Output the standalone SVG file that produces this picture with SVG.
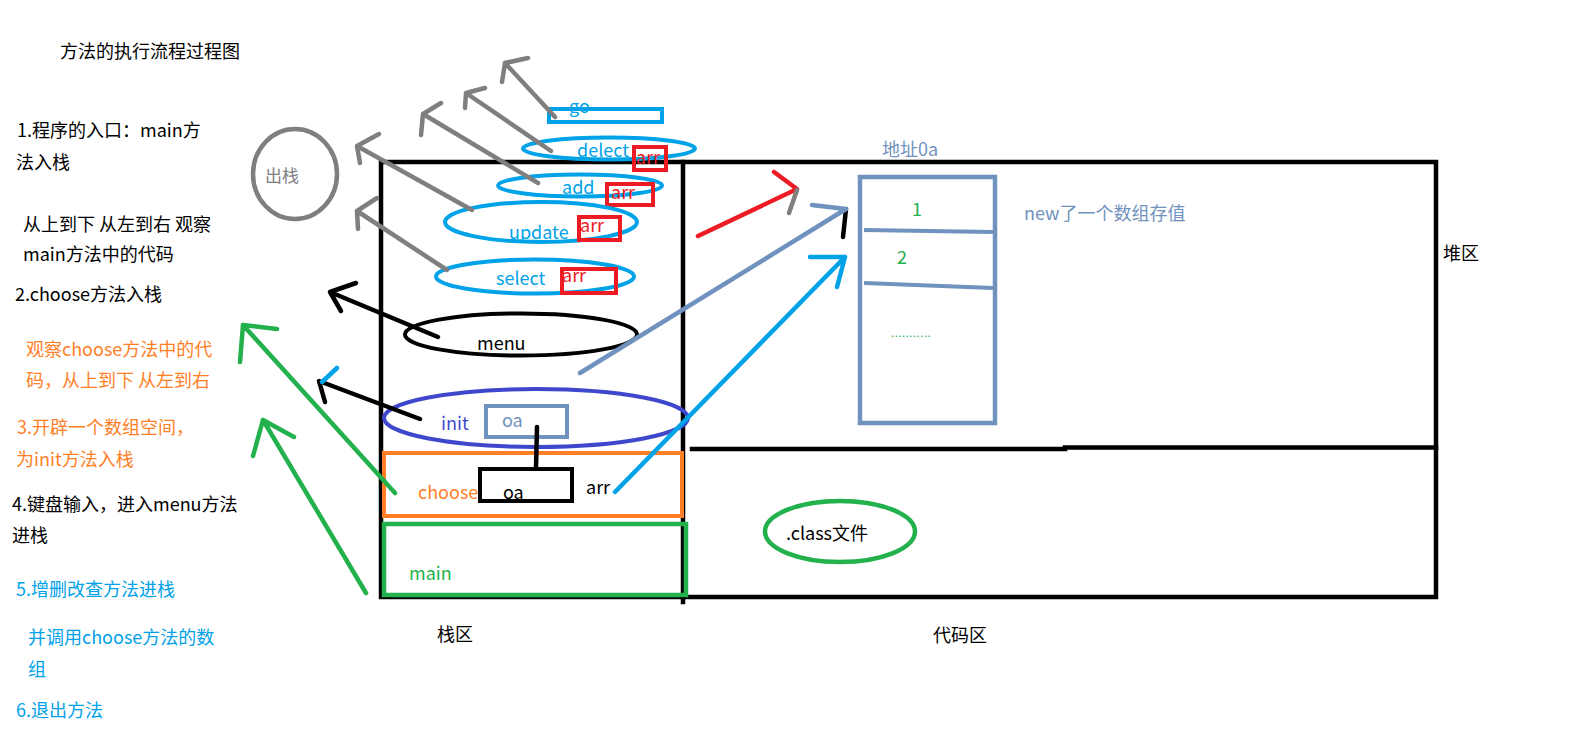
<svg xmlns="http://www.w3.org/2000/svg" width="1573" height="733" viewBox="0 0 1573 733">
<style>
text{font-family:"Microsoft YaHei","Noto Sans CJK SC","Noto Sans",sans-serif;font-size:18px}
.k{fill:#000}.o{fill:#FF7F27}.b{fill:#00A2E8}.g{fill:#22B14C}.r{fill:#ED1C24}.gr{fill:#7F7F7F}.bg{fill:#7092BE}.in{fill:#3F48CC}
.frame{fill:none;stroke:#000;stroke-width:4.5;stroke-linecap:square}
.bell{fill:none;stroke:#00A2E8;stroke-width:4}
.rbox{fill:none;stroke:#ED1C24;stroke-width:4}
.ln{fill:none;stroke-width:4.5;stroke-linecap:round;stroke-linejoin:round}
</style>
<rect width="1573" height="733" fill="#fff"/>

<g id="frame">
<path class="frame" d="M381 162 H1436 V597 H381 Z"/>
<path class="frame" d="M683 162 V602"/>
<path class="frame" d="M692 449 H1065 M1065 447.5 H1436"/>
</g>

<g id="notes">
<text x="60" y="58" class="k">方法的执行流程过程图</text>
<text x="17" y="137" class="k">1.程序的入口：main方</text>
<text x="16" y="169" class="k">法入栈</text>
<text x="23" y="231" class="k">从上到下 从左到右 观察</text>
<text x="23" y="261" class="k">main方法中的代码</text>
<text x="15" y="301" class="k">2.choose方法入栈</text>
<text x="26" y="356" class="o">观察choose方法中的代</text>
<text x="26" y="387" class="o">码，从上到下 从左到右</text>
<text x="17" y="434" class="o">3.开辟一个数组空间，</text>
<text x="16" y="466" class="o">为init方法入栈</text>
<text x="12" y="511" class="k">4.键盘输入，进入menu方法</text>
<text x="12" y="542" class="k">进栈</text>
<text x="16" y="596" class="b">5.增删改查方法进栈</text>
<text x="28" y="644" class="b">并调用choose方法的数</text>
<text x="28" y="676" class="b">组</text>
<text x="16" y="717" class="b">6.退出方法</text>
<text x="437" y="641" class="k">栈区</text>
<text x="933" y="642" class="k">代码区</text>
<text x="1443" y="260" class="k">堆区</text>
</g>

<g id="out">
<ellipse cx="295" cy="174" rx="42" ry="45" fill="none" stroke="#7F7F7F" stroke-width="4.5"/>
<text x="265" y="182" class="gr" style="font-size:17px">出栈</text>
</g>

<g id="go">
<text x="569" y="113" class="b">go</text>
<rect x="549" y="109" width="113" height="13" fill="none" stroke="#00A2E8" stroke-width="4"/>
</g>
<g id="delect">
<ellipse class="bell" cx="609" cy="148.5" rx="86" ry="11"/>
<text x="577" y="157" class="b">delect</text>
<text x="636" y="164" class="r">arr</text>
<rect class="rbox" x="634" y="147" width="32" height="23"/>
</g>
<g id="add">
<ellipse class="bell" cx="580" cy="185.5" rx="82" ry="11"/>
<text x="562" y="194" class="b">add</text>
<text x="611" y="199" class="r">arr</text>
<rect class="rbox" x="607" y="184" width="46" height="21"/>
</g>
<g id="update">
<ellipse class="bell" cx="541" cy="222" rx="96" ry="20"/>
<text x="509" y="239" class="b">update</text>
<text x="580" y="232" class="r">arr</text>
<rect class="rbox" x="579" y="217" width="41" height="23"/>
</g>
<g id="select">
<ellipse class="bell" cx="535" cy="276.5" rx="99" ry="17"/>
<text x="496" y="285" class="b">select</text>
<text x="562" y="282" class="r">arr</text>
<rect class="rbox" x="562" y="269" width="54" height="24"/>
</g>
<g id="menu">
<ellipse cx="521" cy="334.5" rx="116" ry="21" fill="none" stroke="#000" stroke-width="4"/>
<text x="477" y="350" class="k">menu</text>
</g>
<g id="init">
<ellipse cx="536" cy="418" rx="152" ry="29" fill="none" stroke="#3F48CC" stroke-width="4"/>
<text x="441" y="430" class="in">init</text>
<rect x="486" y="406" width="81" height="31" fill="none" stroke="#7092BE" stroke-width="4"/>
<text x="502" y="427" class="bg">oa</text>
</g>
<g id="choose">
<rect x="384" y="453" width="298" height="63" fill="none" stroke="#FF7F27" stroke-width="4"/>
<text x="418" y="499" class="o">choose</text>
<text x="503" y="499" class="k">oa</text>
<rect x="480" y="469" width="92" height="32" fill="none" stroke="#000" stroke-width="4"/>
<text x="586" y="494" class="k">arr</text>
</g>
<g id="main">
<rect x="384" y="524" width="302" height="71" fill="none" stroke="#22B14C" stroke-width="4.5"/>
<text x="409" y="580" class="g">main</text>
</g>

<g id="heap-array">
<text x="882" y="156" class="bg">地址0a</text>
<rect x="860" y="177" width="135" height="246" fill="none" stroke="#7092BE" stroke-width="4.5"/>
<path d="M864 230 L993 232 M864 283 L993 288" fill="none" stroke="#7092BE" stroke-width="4"/>
<text x="912" y="216" class="g">1</text>
<text x="897" y="264" class="g">2</text>
<text x="891" y="337" class="g" style="font-size:11px;letter-spacing:0.6px">...........</text>
<text x="1024" y="220" class="bg">new了一个数组存值</text>
</g>

<g id="class-file">
<ellipse cx="840" cy="531.5" rx="75" ry="30.5" fill="none" stroke="#22B14C" stroke-width="4.5"/>
<text x="786" y="540" class="k">.class文件</text>
</g>

<g id="connectors">
<g stroke="#7F7F7F" class="ln">
<path d="M555 117 L505 63 M528 58 L505 63 L502 82"/>
<path d="M551 151 L466 93 M485 88 L466 93 L465 108"/>
<path d="M538 183 L423 114 M441 103 L423 114 L421 135"/>
<path d="M472 210 L357 146 M379 134 L357 146 L360 163"/>
<path d="M447 270 L357 211 M377 198 L357 211 L358 229"/>
</g>
<g stroke="#000" class="ln">
<path d="M438 337 L330 292 M356 283 L330 292 L341 311"/>
<path d="M420 419 L319 381 L325 402"/>
<path d="M537 427 L536 468"/>
<path d="M846 209 L843 237"/>
</g>
<path class="ln" stroke="#00A2E8" d="M322 382 L337 368"/>
<g stroke="#22B14C" class="ln">
<path d="M395 493 L243 325 M277 329 L243 325 L240 362"/>
<path d="M366 593 L263 420 M294 437 L263 420 L253 456"/>
</g>
<path class="ln" stroke="#ED1C24" d="M698 236 L797 189 L774 172"/>
<path class="ln" stroke="#7F7F7F" d="M797 190 L789 213"/>
<path class="ln" stroke="#7092BE" d="M580 373 L846 209 L812 205"/>
<path class="ln" stroke="#00A2E8" d="M615 492 L845 257 M810 257 L845 257 L837 287"/>
</g>
</svg>
